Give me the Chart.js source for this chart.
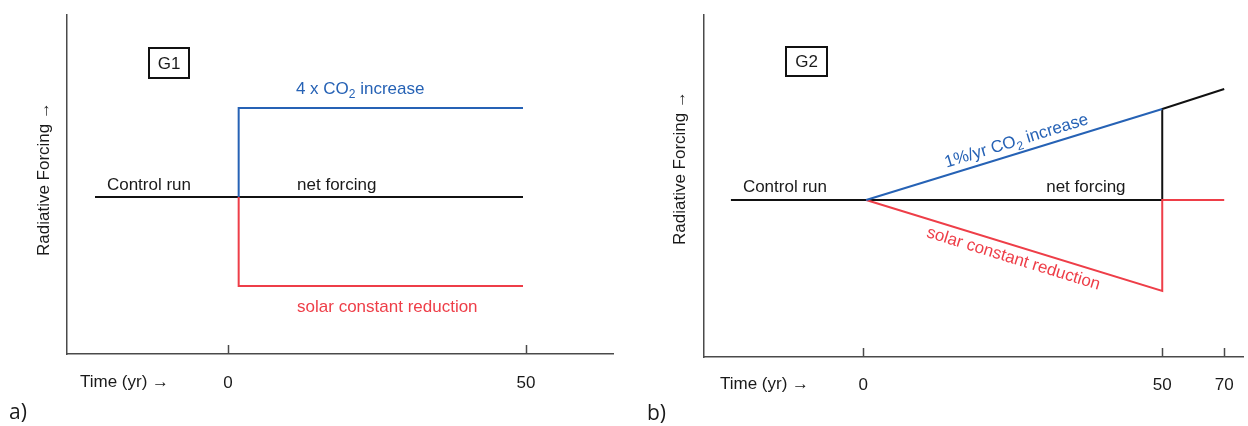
<!DOCTYPE html>
<html>
<head>
<meta charset="utf-8">
<script src="https://cdn.jsdelivr.net/npm/chart.js@4.4.1/dist/chart.umd.min.js"></script>
<style>
  html, body { margin: 0; padding: 0; background: #fff; }
  #wrap { position: relative; width: 1248px; height: 426px; }
  .panel { position: absolute; top: 0; width: 624px; height: 426px; }
</style>
</head>
<body>
<div id="wrap">
  <div class="panel" style="left:0"><canvas id="chartA" width="624" height="426"></canvas></div>
  <div class="panel" style="left:624px"><canvas id="chartB" width="624" height="426"></canvas></div>
</div>
<script>
// data (schematic units: forcing 0 = control, +1 = CO2 step)
// panel a) G1
const g1Ticks = [0, 50];
const g1NetX = [-22.3, 49.5];
const g1NetY = [0, 0];
const g1CO2X = [1.8, 1.8, 49.5];
const g1CO2Y = [0, 1, 1];
const g1SolarX = [1.8, 1.8, 49.5];
const g1SolarY = [0, -1, -1];

// panel b) G2 (axis squeezed after year 50)
const g2Ticks = [0, 50, 70];
const g2NetX = [-22.1, 50, 50, 70];
const g2NetY = [0, 0, 1, 1.22];
const g2CO2X = [0.5, 50];
const g2CO2Y = [0, 1];
const g2SolarX = [0.5, 50, 50, 70];
const g2SolarY = [0, -1, 0, 0];

const FONT = '"Liberation Sans", Arial, Helvetica, sans-serif';
const BLUE = "rgb(38, 98, 181)";
const RED = "rgb(238, 62, 72)";
const INK = "#1a1a1a";
const AXIS = "#4a4a4a";

// x scale with the years after the break drawn closer together
class BrokenScale extends Chart.LinearScale {
  getPixelForValue(value) {
    const k = this.options.breakAt;
    const f = this.options.squeeze;
    const v = k !== undefined && value > k ? k + (value - k) * f : value;
    return super.getPixelForValue(v);
  }
}
BrokenScale.id = "broken";
BrokenScale.defaults = Chart.LinearScale.defaults;
Chart.register(BrokenScale);

function toPoints(xs, ys) {
  return xs.map((x, i) => ({ x: x, y: ys[i] }));
}

function lineSet(xs, ys, color) {
  return {
    data: toPoints(xs, ys),
    showLine: true,
    borderColor: color,
    borderWidth: 2,
    pointRadius: 0,
    borderJoinStyle: "miter",
    tension: 0,
  };
}

// text with CO2 subscript, parts = [[text, isSub], ...]
function richText(ctx, parts, x, y, align) {
  const big = `17px ${FONT}`, small = `12px ${FONT}`;
  let w = 0;
  parts.forEach(p => { ctx.font = p[1] ? small : big; w += ctx.measureText(p[0]).width; });
  let cx = align === "center" ? x - w / 2 : x;
  ctx.textAlign = "left";
  ctx.textBaseline = "middle";
  parts.forEach(p => {
    ctx.font = p[1] ? small : big;
    ctx.fillText(p[0], cx, p[1] ? y + 6 : y);
    cx += ctx.measureText(p[0]).width;
  });
}

// labels, boxes and the axis captions
const sketchPlugin = {
  id: "sketch",
  afterDatasetsDraw(chart, args, o) {
    const ctx = chart.ctx;
    const xs = chart.scales.x, ys = chart.scales.y;
    const px = v => xs.getPixelForValue(v);
    const py = v => ys.getPixelForValue(v);
    ctx.save();

    // y axis caption
    ctx.save();
    ctx.fillStyle = INK;
    ctx.font = `17px ${FONT}`;
    ctx.translate(o.yTitle[0], o.yTitle[1]);
    ctx.rotate(-Math.PI / 2);
    ctx.textAlign = "center";
    ctx.textBaseline = "middle";
    ctx.fillText("Radiative Forcing \u2192", 0, 0);
    ctx.restore();

    // x axis caption
    ctx.fillStyle = INK;
    ctx.font = `17px ${FONT}`;
    ctx.textAlign = "left";
    ctx.textBaseline = "middle";
    ctx.fillText("Time (yr) \u2192", o.xTitle[0], o.xTitle[1]);

    // experiment box
    ctx.strokeStyle = "#111";
    ctx.lineWidth = 2;
    ctx.strokeRect(o.box[0], o.box[1], o.box[2], o.box[3]);
    ctx.textAlign = "center";
    ctx.fillText(o.name, o.box[0] + o.box[2] / 2, o.box[1] + o.box[3] / 2 + 1);

    // panel letter
    ctx.font = `21px "Open Sans", ${FONT}`;
    ctx.textAlign = "left";
    ctx.fillText(o.letter, o.letterPos[0], o.letterPos[1]);

    // flat labels
    ctx.font = `17px ${FONT}`;
    o.flat.forEach(l => {
      ctx.fillStyle = l.color;
      richText(ctx, l.parts, px(l.x), py(l.y) + l.dy, "left");
    });

    // labels along sloped lines
    o.slanted.forEach(l => {
      const x0 = px(l.from[0]), y0 = py(l.from[1]);
      const x1 = px(l.to[0]), y1 = py(l.to[1]);
      const t = l.at;
      const ang = Math.atan2(y1 - y0, x1 - x0);
      ctx.save();
      ctx.fillStyle = l.color;
      ctx.translate(x0 + (x1 - x0) * t, y0 + (y1 - y0) * t);
      ctx.rotate(ang);
      richText(ctx, l.parts, 0, l.dy, "center");
      ctx.restore();
    });

    // inward tick marks on the time axis
    ctx.strokeStyle = AXIS;
    ctx.lineWidth = 1.5;
    const base = chart.chartArea.bottom;
    o.ticks.forEach(v => {
      const x = Math.round(px(v)) + 0.5;
      ctx.beginPath();
      ctx.moveTo(x, base);
      ctx.lineTo(x, base - 9);
      ctx.stroke();
    });
    ctx.restore();
  },
};

function makeChart(id, cfg) {
  return new Chart(document.getElementById(id), {
    type: "scatter",
    data: { datasets: cfg.datasets },
    options: {
      responsive: false,
      animation: false,
      events: [],
      layout: { autoPadding: false, padding: { left: 0, top: cfg.top, right: cfg.right, bottom: 0 } },
      plugins: { legend: { display: false }, tooltip: { enabled: false }, sketch: cfg.sketch },
      scales: {
        x: {
          type: cfg.xType,
          min: cfg.xMin,
          max: cfg.xMax,
          breakAt: cfg.breakAt,
          squeeze: cfg.squeeze,
          afterBuildTicks: s => { s.ticks = cfg.ticks.map(v => ({ value: v })); },
          afterFit: s => { s.height = cfg.xHeight; },
          grid: { display: false },
          border: { display: true, color: AXIS, width: 1.5 },
          ticks: {
            color: INK,
            padding: cfg.tickPad,
            maxRotation: 0,
            autoSkip: false,
            font: { family: FONT, size: 17 },
            callback: v => String(v),
          },
        },
        y: {
          min: cfg.yMin,
          max: cfg.yMax,
          afterFit: s => { s.width = cfg.yWidth; },
          grid: { display: false },
          ticks: { display: false },
          border: { display: true, color: AXIS, width: 1.5 },
        },
      },
    },
    plugins: [sketchPlugin],
  });
}

const co2Label = [["4 x CO", 0], ["2", 1], [" increase", 0]];
const co2RateLabel = [["1%/yr CO", 0], ["2", 1], [" increase", 0]];
const solarLabel = [["solar constant reduction", 0]];

makeChart("chartA", {
  datasets: [
    lineSet(g1CO2X, g1CO2Y, BLUE),
    lineSet(g1SolarX, g1SolarY, RED),
    lineSet(g1NetX, g1NetY, "#111"),
  ],
  xType: "linear",
  xMin: -27.0, xMax: 64.6,
  yMin: -1.764, yMax: 2.045,
  ticks: g1Ticks,
  top: 15, right: 11, xHeight: 72, yWidth: 67, tickPad: 11,
  sketch: {
    yTitle: [44, 179],
    xTitle: [80, 382],
    box: [149, 48, 40, 30],
    name: "G1",
    letter: "a)",
    letterPos: [9, 413],
    ticks: g1Ticks,
    flat: [
      { parts: [["Control run", 0]], x: -20.3, y: 0, dy: -12, color: INK },
      { parts: [["net forcing", 0]], x: 11.6, y: 0, dy: -12, color: INK },
      { parts: co2Label, x: 11.4, y: 1, dy: -19, color: BLUE },
      { parts: solarLabel, x: 11.6, y: -1, dy: 21, color: RED },
    ],
    slanted: [],
  },
});

makeChart("chartB", {
  datasets: [
    lineSet(g2CO2X, g2CO2Y, BLUE),
    lineSet(g2SolarX, g2SolarY, RED),
    lineSet(g2NetX, g2NetY, "#111"),
  ],
  xType: "broken",
  breakAt: 50, squeeze: 0.518,
  xMin: -26.6, xMax: 63.5,
  yMin: -1.725, yMax: 2.033,
  ticks: g2Ticks,
  top: 15, right: 5, xHeight: 69, yWidth: 80, tickPad: 10,
  sketch: {
    yTitle: [56, 168],
    xTitle: [96, 384],
    box: [162, 47, 41, 29],
    name: "G2",
    letter: "b)",
    letterPos: [23, 414],
    ticks: g2Ticks,
    flat: [
      { parts: [["Control run", 0]], x: -20.1, y: 0, dy: -13, color: INK },
      { parts: [["net forcing", 0]], x: 30.6, y: 0, dy: -13, color: INK },
    ],
    slanted: [
      { parts: co2RateLabel, from: [0.5, 0], to: [50, 1], at: 0.52, dy: -12, color: BLUE },
      { parts: solarLabel, from: [0.5, 0], to: [50, -1], at: 0.51, dy: 13, color: RED },
    ],
  },
});
</script>
</body>
</html>
